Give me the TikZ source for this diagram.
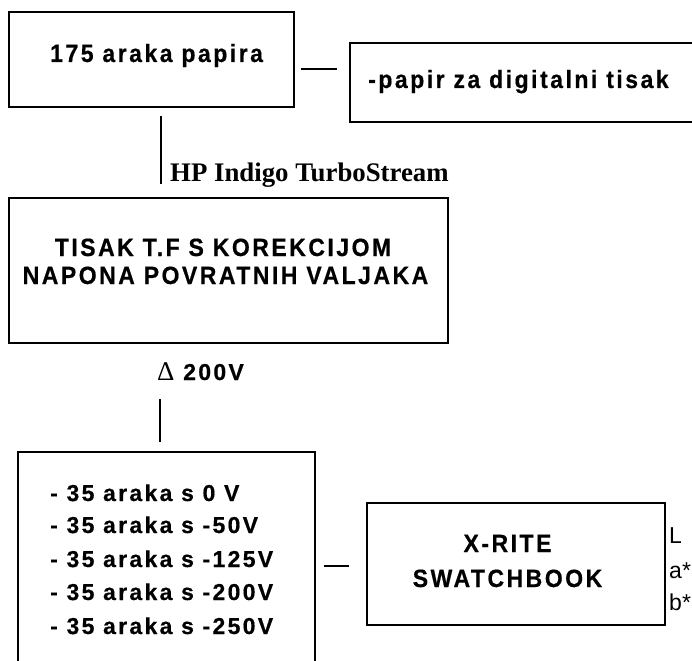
\documentclass[tikz,border=0pt]{standalone}
\usepackage{fontspec}
\setmainfont{Liberation Sans}
\newfontfamily\spc[LetterSpace=10,FakeStretch=0.92,BoldFeatures={FakeBold=0.5}]{Liberation Sans}
\newfontfamily\spl[LetterSpace=10,BoldFeatures={FakeBold=0.5}]{Liberation Sans}
\newfontfamily\serifb{Liberation Serif}
\begin{document}
\begin{tikzpicture}[x=1pt,y=-1pt,
  box/.style={draw, line width=2.8pt, inner sep=0pt},
  conn/.style={line width=2.8pt},
  txt/.style={inner sep=0pt, font=\spc\bfseries\fontsize{25}{28}\selectfont},
  lst/.style={inner sep=0pt, anchor=base west, font=\spl\bfseries\fontsize{23}{28}\selectfont},
  lab/.style={inner sep=0pt, anchor=base west, font=\fontsize{23}{28}\selectfont}]
\useasboundingbox (0,0) rectangle (692,660);
\begin{scope}
\clip (0,0) rectangle (692,660);
% boxes
\node[box, minimum width=285pt, minimum height=95pt] (b1) at (151.5,59.5) {};
\node[box, minimum width=360pt, minimum height=79pt] (b2) at (530,82.5) {};
\node[box, minimum width=439pt, minimum height=145pt] (b3) at (228.5,270.5) {};
\node[box, minimum width=297pt, minimum height=240pt] (b4) at (166.5,572) {};
\node[box, minimum width=298pt, minimum height=122pt] (b5) at (516,564) {};
% texts
\node[txt, anchor=base west] (t1) at (50,62) {175 araka papira};
\node[txt, anchor=base west] (t2) at (368,88) {-papir za digitalni tisak};
\node[txt, anchor=base] (t3a) at (223,256) {TISAK T.F S KOREKCIJOM};
\node[txt, anchor=base] (t3b) at (225.5,284) {NAPONA POVRATNIH VALJAKA};
\node[lst] (l1) at (50,501) {- 35 araka s 0 V};
\node[lst] (l2) at (50,533) {- 35 araka s -50V};
\node[lst] (l3) at (50,567) {- 35 araka s -125V};
\node[lst] (l4) at (50,600) {- 35 araka s -200V};
\node[lst] (l5) at (50,634) {- 35 araka s -250V};
\node[txt, anchor=base] (t5a) at (507.5,552) {X-RITE};
\node[txt, anchor=base] (t5b) at (507.5,587) {SWATCHBOOK};
\node[lab] (lL) at (669,543) {L};
\node[lab] (la) at (669,578) {a*};
\node[lab] (lb) at (669,610) {b*};
% connector labels
\node[inner sep=0pt, anchor=base west, font=\serifb\bfseries\fontsize{26.8}{30}\selectfont] (hp) at (170,182) {HP Indigo TurboStream};
\node[inner sep=0pt, anchor=base west, font=\spl\bfseries\fontsize{23}{26}\selectfont] (dv) at (157,380) {{\serifb\mdseries\fontsize{27}{30}\selectfont Δ} 200V};
% connectors
\draw[conn, shorten <=6pt, shorten >=12pt] (b1.east |- 0,69) -- (b2.west |- 0,69);
\draw[conn, shorten <=8pt, shorten >=13pt] (b1.south -| 161,0) -- (b3.north -| 161,0);
\draw[conn, shorten <=55pt, shorten >=9pt] (b3.south -| 160,0) -- (b4.north -| 160,0);
\draw[conn, shorten <=8pt, shorten >=17pt] (b4.east |- 0,566) -- (b5.west |- 0,566);
\end{scope}
\end{tikzpicture}
\end{document}
